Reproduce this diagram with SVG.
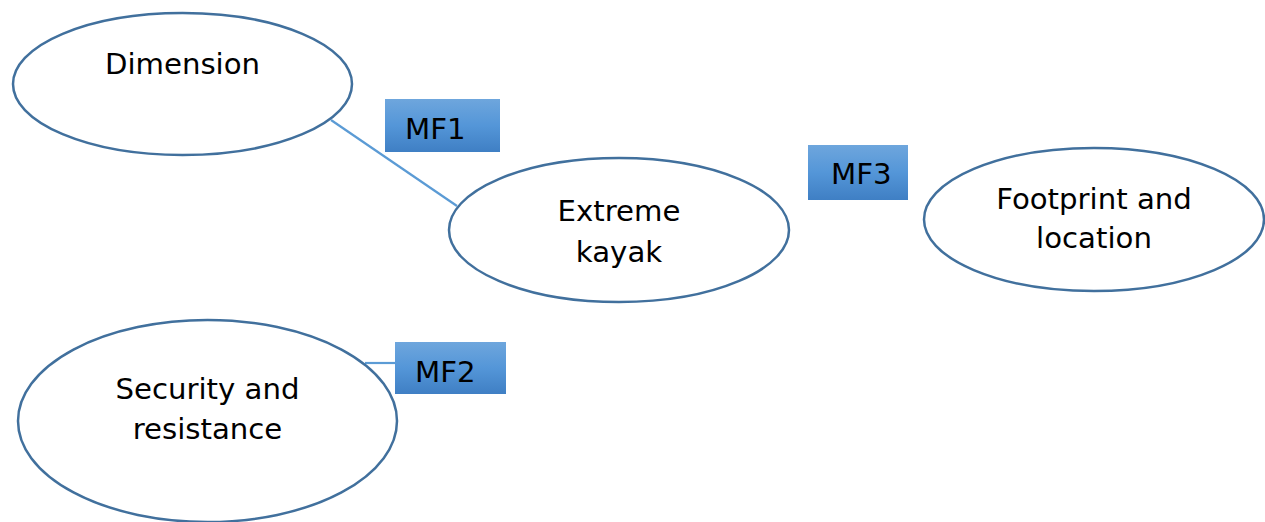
<svg xmlns="http://www.w3.org/2000/svg" width="1265" height="522" viewBox="0 0 1265 522">
<defs>
<linearGradient id="boxg" x1="0" y1="0" x2="0" y2="1">
<stop offset="0" stop-color="#6ea6dd"/>
<stop offset="0.5" stop-color="#5496d8"/>
<stop offset="1" stop-color="#3f7fc4"/>
</linearGradient>
<style>
.ell{fill:#ffffff;stroke:#41709d;stroke-width:2.5}
.box{fill:url(#boxg);stroke:none}
.conn{stroke:#5b9bd5;stroke-width:2.2;fill:none}
.t{font-family:"DejaVu Sans","Verdana",sans-serif;font-size:29.2px;fill:#000000}
.c{text-anchor:middle}
</style>
</defs>
<rect width="1265" height="522" fill="#ffffff"/>
<g id="connectors">
<line class="conn" x1="331" y1="120" x2="457" y2="206"/>
<line class="conn" x1="365" y1="363" x2="396" y2="363"/>
</g>
<g id="dimension">
<ellipse class="ell" cx="182.5" cy="84" rx="169.5" ry="71"/>
<text class="t c" x="182.5" y="74">Dimension</text>
</g>
<g id="extreme-kayak">
<ellipse class="ell" cx="619" cy="230" rx="170" ry="72"/>
<text class="t c" x="619" y="221">Extreme</text>
<text class="t c" x="619" y="262">kayak</text>
</g>
<g id="footprint">
<ellipse class="ell" cx="1094" cy="219.5" rx="170" ry="71.5"/>
<text class="t c" x="1094" y="209">Footprint and</text>
<text class="t c" x="1094" y="248">location</text>
</g>
<g id="security">
<ellipse class="ell" cx="207.5" cy="421" rx="189.5" ry="101"/>
<text class="t c" x="207.5" y="399">Security and</text>
<text class="t c" x="207.5" y="439">resistance</text>
</g>
<g id="mf1">
<rect class="box" x="385" y="99" width="115" height="53"/>
<text class="t" x="405" y="139">MF1</text>
</g>
<g id="mf2">
<rect class="box" x="395" y="342" width="111" height="52"/>
<text class="t" x="415" y="382">MF2</text>
</g>
<g id="mf3">
<rect class="box" x="808" y="145" width="100" height="55"/>
<text class="t" x="831" y="184">MF3</text>
</g>
</svg>
